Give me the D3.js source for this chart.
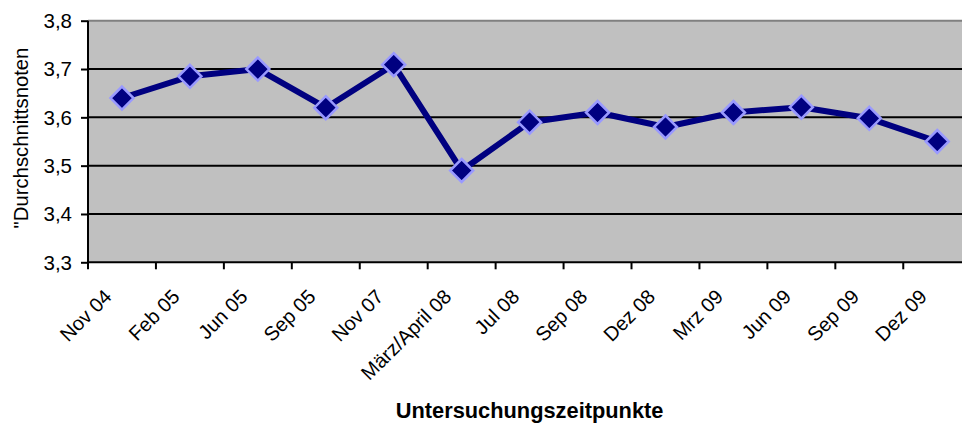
<!DOCTYPE html>
<html>
<head>
<meta charset="utf-8">
<script src="https://cdn.jsdelivr.net/npm/d3@7"></script>
<style>
  html, body { margin: 0; padding: 0; background: #fff; }
  svg { display: block; }
  text { font-family: "Liberation Sans", Arial, sans-serif; fill: #000; }
</style>
</head>
<body>
<svg id="chart" width="962" height="423"></svg>
<script>
const categories = ["Nov 04", "Feb 05", "Jun 05", "Sep 05", "Nov 07", "März/April 08", "Jul 08", "Sep 08", "Dez 08", "Mrz 09", "Jun 09", "Sep 09", "Dez 09"];
const values = [3.64, 3.685, 3.70, 3.62, 3.709, 3.49, 3.59, 3.61, 3.58, 3.61, 3.621, 3.598, 3.55];
const yTicks = [3.3, 3.4, 3.5, 3.6, 3.7, 3.8];
const yTitle = "\"Durchschnittsnoten";
const xTitle = "Untersuchungszeitpunkte";

(function () {
const svg = d3.select("#chart");
const pL = 88, pR = 971.2, pT = 20.7, pB = 262.3;

const x = d3.scaleBand().domain(categories).range([pL, pR]).padding(0);
const y = d3.scaleLinear().domain([3.3, 3.8]).range([pB, pT]);
const fmt = d => d3.format(".1f")(d).replace(".", ",");

// plot background
svg.append("rect")
  .attr("x", pL).attr("y", pT)
  .attr("width", pR - pL).attr("height", pB - pT)
  .attr("fill", "#C0C0C0");

// top border
svg.append("line")
  .attr("x1", pL).attr("x2", pR)
  .attr("y1", pT).attr("y2", pT)
  .attr("stroke", "#808080").attr("stroke-width", 2);

// gridlines
svg.append("g").selectAll("line")
  .data(yTicks.filter(t => t > 3.3 && t < 3.8))
  .join("line")
  .attr("x1", pL).attr("x2", pR)
  .attr("y1", d => y(d)).attr("y2", d => y(d))
  .attr("stroke", "#000").attr("stroke-width", 2);

// y axis
const yAxis = d3.axisLeft(y).tickValues(yTicks).tickSize(7).tickFormat("");
const gy = svg.append("g").attr("transform", `translate(${pL},0)`).call(yAxis);
gy.select(".domain").attr("stroke", "#000").attr("stroke-width", 2).attr("d", `M0,${pT}V${pB}`);
gy.selectAll(".tick line").attr("stroke", "#000").attr("stroke-width", 2);

// y tick labels
svg.append("g").selectAll("text")
  .data(yTicks)
  .join("text")
  .attr("x", 72)
  .attr("y", d => y(d))
  .attr("text-anchor", "end")
  .attr("dy", "0.36em")
  .attr("font-size", 20.5)
  .text(fmt);

// x axis with ticks at category boundaries
const boundaries = categories.map(c => x(c)).concat([pR]);
svg.append("line")
  .attr("x1", pL - 1).attr("x2", pR)
  .attr("y1", pB).attr("y2", pB)
  .attr("stroke", "#000").attr("stroke-width", 2);
svg.append("g").selectAll("line")
  .data(boundaries)
  .join("line")
  .attr("x1", d => d).attr("x2", d => d)
  .attr("y1", pB).attr("y2", pB + 7)
  .attr("stroke", "#000").attr("stroke-width", 2);

// x labels
svg.append("g").selectAll("text")
  .data(categories)
  .join("text")
  .attr("transform", d => `translate(${x(d) + x.bandwidth() / 2 - 9},298) rotate(-45)`)
  .attr("text-anchor", "end")
  .attr("font-size", 20)
  .text(d => d);

// axis titles
svg.append("text")
  .attr("transform", `translate(28,138) rotate(-90)`)
  .attr("text-anchor", "middle")
  .attr("font-size", 20.3)
  .text(yTitle);

svg.append("text")
  .attr("x", (pL + pR) / 2)
  .attr("y", 418)
  .attr("text-anchor", "middle")
  .attr("font-size", 21.8)
  .attr("font-weight", "bold")
  .text(xTitle);

// line
const data = categories.map((c, i) => ({ c, v: values[i] }));
const line = d3.line().x(d => x(d.c) + x.bandwidth() / 2).y(d => y(d.v));
svg.append("path")
  .datum(data)
  .attr("d", line)
  .attr("fill", "none")
  .attr("stroke", "#000080")
  .attr("stroke-width", 6)
  .attr("stroke-linejoin", "round");

// diamond markers
const r = 11.5;
svg.append("g").selectAll("path")
  .data(data)
  .join("path")
  .attr("transform", d => `translate(${x(d.c) + x.bandwidth() / 2},${y(d.v)})`)
  .attr("d", `M0,${-r}L${r},0L0,${r}L${-r},0Z`)
  .attr("fill", "#000080")
  .attr("stroke", "#9999FF")
  .attr("stroke-width", 2.5);
})();
</script>
</body>
</html>
